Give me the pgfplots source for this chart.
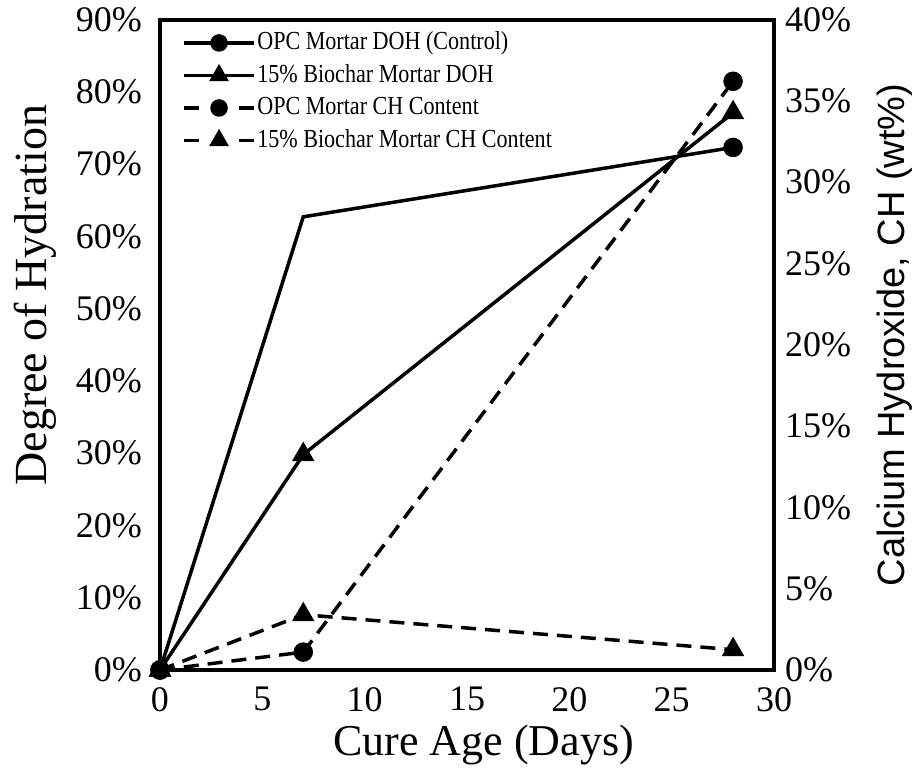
\documentclass[border=0pt]{standalone}
\usepackage{pgfplots}
\pgfplotsset{compat=1.18}
\usepackage{fontspec}
\setmainfont{Liberation Serif}
\newfontfamily\arialfont{Liberation Sans}
\newfontfamily\legendfont{Liberation Serif}[FakeStretch=0.85]

\begin{document}
\begin{tikzpicture}
\path[use as bounding box] (-160bp,-98bp) rectangle (760bp,670bp);
\pgfplotsset{
  chart/.style={
    scale only axis, width=614bp, height=650.5bp,
    xmin=0, xmax=30, clip=false,
    major tick length=0pt,
    /pgf/number format/assume math mode=true,
    tick label style={font=\fontsize{36bp}{40bp}\selectfont},
  },
  doh/.style={black, line width=3.5bp, solid, mark options={solid, fill=black}},
  ch/.style={black, line width=3.5bp, dash pattern=on 15bp off 9bp, mark options={solid, fill=black}},
  circ/.style={mark=*, mark size=8bp},
  tri/.style={mark=triangle*, mark size=9.5bp},
}
% Degree of hydration (left axis) and the frame
\begin{axis}[chart,
  ymin=0, ymax=90,
  axis line style={line width=4bp},
  xtick={0,5,...,30}, ytick={0,10,...,90},
  xtick pos=bottom, ytick pos=left,
  yticklabel={\pgfmathprintnumber{\tick}\%},
  xticklabel style={inner sep=0pt, anchor=north, yshift=-17bp},
  yticklabel style={inner sep=0pt, anchor=east, xshift=-18bp},
  xlabel={Cure Age (Days)},
  ylabel={Degree of Hydration},
  every axis x label/.style={at={(axis description cs:0.527,-0.115)}, anchor=center, font=\fontsize{44bp}{48bp}\selectfont},
  every axis y label/.style={at={(axis description cs:-0.203,0.576)}, anchor=center, rotate=90, font=\fontsize{46bp}{50bp}\selectfont},
]
\addplot[doh, circ, mark indices={1,3}] coordinates {(0,0) (7,62.7) (28,72.3)};
\addplot[doh, tri] coordinates {(0,0) (7,29.8) (28,77.1)};
\end{axis}
% Calcium hydroxide content (right axis) and the legend
\begin{axis}[chart,
  ymin=0, ymax=40,
  hide x axis,
  axis y line*=right,
  y axis line style={draw=none},
  ytick={0,5,...,40},
  yticklabel={\pgfmathprintnumber{\tick}\%},
  yticklabel style={inner sep=0pt, anchor=west, xshift=11bp},
  ylabel={\arialfont Calcium Hydroxide, CH (wt\%)},
  every axis y label/.style={at={(axis description cs:1.197,0.515)}, anchor=center, rotate=90, font=\fontsize{38bp}{42bp}\selectfont},
  legend cell align=left,
  legend style={at={(axis description cs:0.036,0.985)}, anchor=north west,
    draw=none, fill=none, inner sep=0pt, row sep=5.5bp,
    font=\legendfont\fontsize{26bp}{30bp}\selectfont,
    nodes={inner sep=1.5bp, text height=19bp, text depth=5bp}},
  legend image code/.code={\draw[mark repeat=2, mark phase=2, #1] plot coordinates {(0bp,0bp) (35bp,0bp) (70bp,0bp)};},
]
\addlegendimage{doh, mark=*, mark size=7bp}
\addlegendentry{OPC Mortar DOH (Control)}
\addlegendimage{doh, mark=triangle*, mark size=8bp}
\addlegendentry{15\% Biochar Mortar DOH}
\addlegendimage{ch, dash pattern=on 15bp off 40bp, mark=*, mark size=7bp}
\addlegendentry{OPC Mortar CH Content}
\addlegendimage{ch, dash pattern=on 15bp off 40bp, mark=triangle*, mark size=8bp}
\addlegendentry{15\% Biochar Mortar CH Content}
\addplot[ch, circ, forget plot] coordinates {(0,0) (7,1.1) (28,36.2)};
\addplot[ch, tri, forget plot] coordinates {(0,0) (7,3.4) (28,1.25)};
\end{axis}
\end{tikzpicture}
\end{document}
